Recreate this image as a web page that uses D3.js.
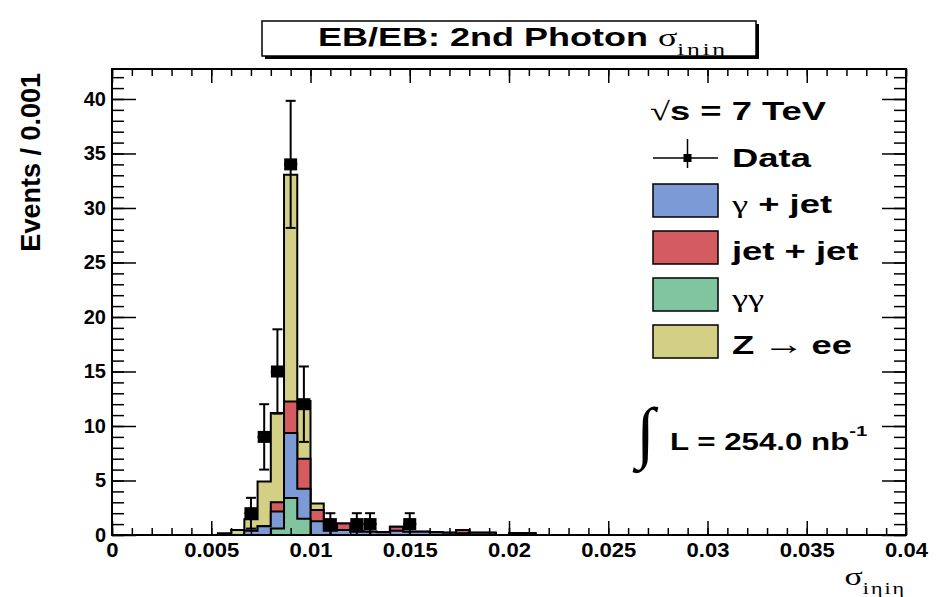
<!DOCTYPE html>
<html>
<head>
    <meta charset="utf-8" />
    <title>EB/EB: 2nd Photon sigma_ietaieta</title>
    <script src="https://cdn.jsdelivr.net/npm/d3@7"></script>
    <style>
        body { margin: 0; background: #fff; }
        svg { display: block; font-family: "Liberation Sans", Arial, Helvetica, sans-serif; font-weight: bold; }
        .greek { font-family: "Liberation Serif", "DejaVu Serif", serif; font-weight: normal; }
    </style>
</head>
<body>
    <svg id="chart" width="942" height="597"></svg>
    <script>
        // binning: 60 bins between 0 and 0.04
        const nBins = 60;
        const xMin = 0, xMax = 0.04;
        const yMax = 42.75;

        // stack contents, bins 8..31 (everything else is empty)
        const firstBin = 8;
        const gammaGamma = [0, 0, 0, 0, 0.6, 3.4, 1.5, 0, 0, 0, 0, 0, 0, 0, 0, 0, 0, 0, 0, 0, 0, 0, 0, 0];
        const gammaJet   = [0, 0, 0.4, 0.8, 1.55, 5.95, 2.75, 1.25, 0.4, 0.45, 0.3, 0.3, 0.25, 0.4, 0.3, 0.3, 0.25, 0.2, 0.15, 0.2, 0.2, 0, 0.15, 0.15];
        const jetJet     = [0, 0, 0, 0, 0.85, 2.9, 2.75, 1.05, 0.1, 0.6, 0.05, 0, 0, 0.35, 0, 0, 0, 0, 0.3, 0, 0, 0, 0, 0];
        const zee        = [0.15, 0.45, 1.05, 4.1, 8.2, 20.8, 5.3, 0.6, 0, 0, 0, 0, 0, 0, 0, 0, 0, 0, 0, 0, 0, 0, 0, 0];

        // data points
        const dataBins   = [10, 11, 12, 13, 14, 16, 18, 19, 22];
        const dataCounts = [2, 9, 15, 34, 12, 1, 1, 1, 1];
        const dataErrors = [1.41, 3, 3.87, 5.83, 3.46, 1, 1, 1, 1];

        const xMajorTicks = [0, 0.005, 0.01, 0.015, 0.02, 0.025, 0.03, 0.035, 0.04];
        const xTickLabels = ["0", "0.005", "0.01", "0.015", "0.02", "0.025", "0.03", "0.035", "0.04"];
        const yMajorTicks = [0, 5, 10, 15, 20, 25, 30, 35, 40];
        const yTickLabels = ["0", "5", "10", "15", "20", "25", "30", "35", "40"];

        const series = [
            { name: "gg", label: "γγ", values: gammaGamma, color: "#80c4a0" },
            { name: "gj", label: "γ + jet", values: gammaJet, color: "#7c9bd6" },
            { name: "jj", label: "jet + jet", values: jetJet, color: "#d45c60" },
            { name: "zee", label: "Z → ee", values: zee, color: "#d3cf85" }
        ];
        const legendOrder = ["gj", "jj", "gg", "zee"];

        const W = 942, H = 597;
        const frame = { left: 112, right: 906, top: 69, bottom: 535 };
        const binW = (xMax - xMin) / nBins;

        const svg = d3.select('#chart');
        svg.append('rect').attr('width', W).attr('height', H).attr('fill', '#fff');

        const x = d3.scaleLinear().domain([xMin, xMax]).range([frame.left, frame.right]);
        const y = d3.scaleLinear().domain([0, yMax]).range([frame.bottom, frame.top]);

        // full-length bin arrays
        const full = arr => d3.range(nBins).map(i => {
            const k = i - firstBin;
            return k >= 0 && k < arr.length ? arr[k] : 0;
        });
        const rows = d3.range(nBins).map(i => {
            const r = { bin: i };
            series.forEach(s => { r[s.name] = full(s.values)[i]; });
            return r;
        });
        const stacked = d3.stack().keys(series.map(s => s.name))(rows);

        const area = d3.area()
            .curve(d3.curveStepAfter)
            .x(d => x(xMin + d.i * binW))
            .y0(y(0))
            .y1(d => y(d.v));

        // draw cumulative histograms, largest first
        const plot = svg.append('g');
        stacked.slice().reverse().forEach(layer => {
            const s = series.find(q => q.name === layer.key);
            const pts = d3.range(nBins + 1).map(i => ({ i: i, v: layer[Math.min(i, nBins - 1)][1] }));
            plot.append('path')
                .attr('d', area(pts))
                .attr('fill', s.color)
                .attr('stroke', '#000')
                .attr('stroke-width', 2)
                .attr('stroke-linejoin', 'miter');
        });

        // data points with errors
        const points = dataBins.map((b, i) => ({ bin: b, n: dataCounts[i], e: dataErrors[i] }));
        const pg = svg.append('g').attr('stroke', '#000').attr('stroke-width', 2);
        points.forEach(p => {
            const cx = x(xMin + (p.bin + 0.5) * binW);
            const lo = x(xMin + p.bin * binW), hi = x(xMin + (p.bin + 1) * binW);
            const cy = y(p.n);
            const yl = y(Math.max(p.n - p.e, 0)), yh = y(p.n + p.e);
            pg.append('line').attr('x1', cx).attr('x2', cx).attr('y1', yl).attr('y2', yh);
            pg.append('line').attr('x1', cx - 5).attr('x2', cx + 5).attr('y1', yh).attr('y2', yh);
            if (p.n - p.e > 0) pg.append('line').attr('x1', cx - 5).attr('x2', cx + 5).attr('y1', yl).attr('y2', yl);
            pg.append('line').attr('x1', lo).attr('x2', hi).attr('y1', cy).attr('y2', cy);
            pg.append('rect').attr('x', cx - 6.5).attr('y', cy - 6).attr('width', 13).attr('height', 12)
                .attr('fill', '#000').attr('stroke', 'none');
        });

        // axes (ticks pointing inwards, ROOT style)
        const xMinor = d3.range(0, 41).map(i => i * 0.001);
        const yMinor = d3.range(0, 43);
        const axes = svg.append('g');
        const styleAxis = g => {
            g.select('.domain').remove();
            g.selectAll('line').attr('stroke', '#000').attr('stroke-width', 1.5);
        };
        axes.append('g').attr('transform', `translate(0,${frame.bottom})`)
            .call(d3.axisBottom(x).tickValues(xMinor).tickSize(-7).tickFormat(''))
            .call(styleAxis);
        axes.append('g').attr('transform', `translate(0,${frame.bottom})`)
            .call(d3.axisBottom(x).tickValues(xMajorTicks).tickSize(-14).tickPadding(7)
                .tickFormat((d, i) => xTickLabels[i]))
            .call(styleAxis)
            .selectAll('text').attr('font-size', 21).attr('fill', '#000')
            .attr('transform', 'scale(1.05,1)');
        axes.append('g').attr('transform', `translate(0,${frame.top})`)
            .call(d3.axisTop(x).tickValues(xMinor).tickSize(-7).tickFormat(''))
            .call(styleAxis);
        axes.append('g').attr('transform', `translate(0,${frame.top})`)
            .call(d3.axisTop(x).tickValues(xMajorTicks).tickSize(-14).tickFormat(''))
            .call(styleAxis);
        axes.append('g').attr('transform', `translate(${frame.left},0)`)
            .call(d3.axisLeft(y).tickValues(yMinor).tickSize(-12).tickFormat(''))
            .call(styleAxis);
        axes.append('g').attr('transform', `translate(${frame.left},0)`)
            .call(d3.axisLeft(y).tickValues(yMajorTicks).tickSize(-24).tickPadding(6)
                .tickFormat((d, i) => yTickLabels[i]))
            .call(styleAxis)
            .selectAll('text').attr('font-size', 20).attr('fill', '#000');
        axes.append('g').attr('transform', `translate(${frame.right},0)`)
            .call(d3.axisRight(y).tickValues(yMinor).tickSize(-12).tickFormat(''))
            .call(styleAxis);
        axes.append('g').attr('transform', `translate(${frame.right},0)`)
            .call(d3.axisRight(y).tickValues(yMajorTicks).tickSize(-24).tickFormat(''))
            .call(styleAxis);

        svg.append('rect')
            .attr('x', frame.left).attr('y', frame.top)
            .attr('width', frame.right - frame.left).attr('height', frame.bottom - frame.top)
            .attr('fill', 'none').attr('stroke', '#000').attr('stroke-width', 2);

        // axis titles
        svg.append('text')
            .attr('transform', `translate(40,${frame.top + 4}) rotate(-90)`)
            .attr('text-anchor', 'end')
            .attr('font-size', 27)
            .text('Events / 0.001');

        const xt = svg.append('text')
            .attr('transform', `translate(${frame.right},585) scale(1.3,1)`)
            .attr('text-anchor', 'end')
            .attr('class', 'greek');
        xt.append('tspan').attr('font-size', 26).text('σ');
        xt.append('tspan').attr('font-size', 17).attr('dy', 9).attr('letter-spacing', 1.5).text('iηiη');

        // title box with shadow
        const tb = { x: 262, y: 21, w: 494, h: 35 };
        svg.append('rect').attr('x', tb.x + 3).attr('y', tb.y + 3).attr('width', tb.w).attr('height', tb.h).attr('fill', '#000');
        svg.append('rect').attr('x', tb.x).attr('y', tb.y).attr('width', tb.w).attr('height', tb.h)
            .attr('fill', '#fff').attr('stroke', '#000').attr('stroke-width', 1.5);
        const tt = svg.append('text')
            .attr('transform', `translate(318,46) scale(1.44,1)`)
            .attr('font-size', 25);
        tt.append('tspan').text('EB/EB: 2nd Photon ');
        tt.append('tspan').attr('class', 'greek').text('σ');
        tt.append('tspan').attr('class', 'greek').attr('font-size', 17).attr('dy', 9)
            .attr('letter-spacing', 2).text('iηiη');

        // legend
        const leg = svg.append('g');
        const legX = 653, boxW = 65, boxH = 33;
        const rowY = i => 166 + i * 47; // row baseline
        const sq = leg.append('text').attr('transform', 'translate(650,120) scale(1.4,1)').attr('font-size', 26);
        sq.append('tspan').attr('class', 'greek').text('√');
        sq.append('tspan').text('s = 7 TeV');

        // Data entry
        leg.append('line').attr('x1', legX).attr('x2', legX + boxW).attr('y1', 158).attr('y2', 158)
            .attr('stroke', '#000').attr('stroke-width', 1.5);
        leg.append('line').attr('x1', legX + boxW / 2 + 2).attr('x2', legX + boxW / 2 + 2).attr('y1', 139).attr('y2', 168)
            .attr('stroke', '#000').attr('stroke-width', 1.5);
        leg.append('rect').attr('x', legX + boxW / 2 - 2).attr('y', 154).attr('width', 8).attr('height', 8).attr('fill', '#000');
        leg.append('text').attr('transform', 'translate(732,167) scale(1.4,1)').attr('font-size', 26).text('Data');

        legendOrder.forEach((key, i) => {
            const s = series.find(q => q.name === key);
            const by = rowY(i + 1);
            leg.append('rect').attr('x', legX).attr('y', by - 29).attr('width', boxW).attr('height', boxH)
                .attr('fill', s.color).attr('stroke', '#000').attr('stroke-width', 1.5);
            const t = leg.append('text').attr('transform', `translate(732,${by}) scale(1.4,1)`).attr('font-size', 26);
            if (key === 'gg') {
                t.append('tspan').attr('class', 'greek').text('γγ');
            } else if (key === 'gj') {
                t.append('tspan').attr('class', 'greek').text('γ');
                t.append('tspan').text(' + jet');
            } else if (key === 'zee') {
                t.append('tspan').text('Z');
                t.append('tspan').attr('class', 'greek').attr('dx', 6).attr('font-size', 30).text('→');
                t.append('tspan').attr('dx', 5).text('ee');
            } else {
                t.text(s.label);
            }
        });

        // luminosity
        svg.append('text').attr('class', 'greek').attr('transform', 'translate(636,455)')
            .attr('font-size', 68).text('∫');
        const lum = svg.append('text').attr('transform', 'translate(670,450) scale(1.36,1)').attr('font-size', 23);
        lum.append('tspan').text('L = 254.0 nb');
        lum.append('tspan').attr('font-size', 15).attr('dy', -14).text('-1');
    </script>
</body>
</html>
